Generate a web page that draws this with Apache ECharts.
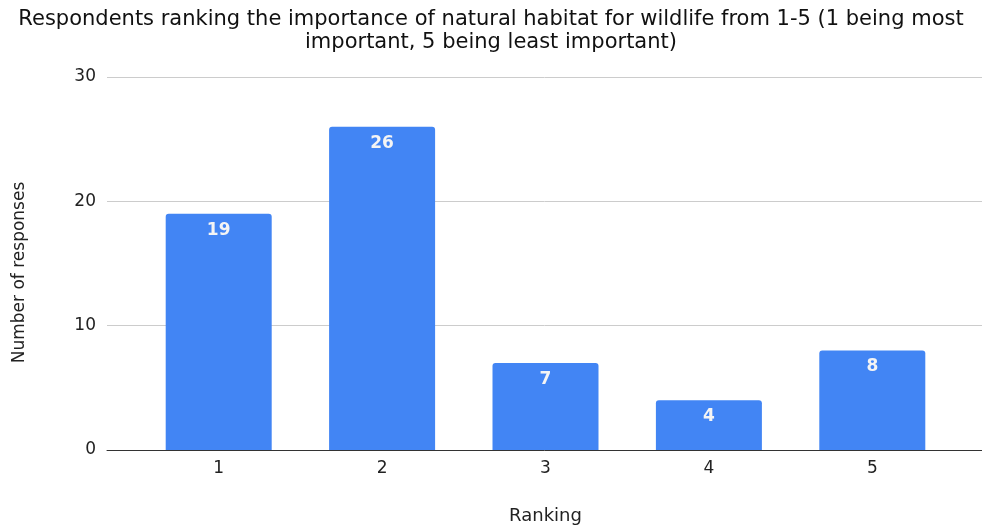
<!DOCTYPE html>
<html>
<head>
<meta charset="utf-8">
<script src="https://cdn.jsdelivr.net/npm/echarts@6/dist/echarts.min.js"></script>
<style>
  html, body { margin: 0; padding: 0; background: #fff; }
  #chart { width: 982px; height: 529px; }
</style>
</head>
<body>
<div id="chart"></div>
<script>
// Survey results: ranking of natural habitat importance
const titleText = 'Respondents ranking the importance of natural habitat for wildlife from 1-5 (1 being most\nimportant, 5 being least important)';
const categories = ['1', '2', '3', '4', '5'];
const responses = [19, 26, 7, 4, 8];
const yMin = 0, yMax = 30, yStep = 10;

const FONT = 'DejaVu Sans, sans-serif';
const chart = echarts.init(document.getElementById('chart'), null, { renderer: 'canvas' });

chart.setOption({
  animation: false,
  title: {
    text: titleText,
    left: 'center',
    top: 3,
    textStyle: { fontFamily: FONT, fontSize: 21, fontWeight: 'normal', color: '#111', lineHeight: 23 }
  },
  grid: [
    // bars
    { left: 137, right: 28, top: 77, bottom: 79, containLabel: false, outerBoundsMode: 'none' },
    // background gridlines spanning full width
    { left: 107, right: 0, top: 77, bottom: 79, containLabel: false, outerBoundsMode: 'none' }
  ],
  xAxis: [
    {
      type: 'category', gridIndex: 0, data: categories,
      axisLine: { show: false }, axisTick: { show: false },
      axisLabel: { fontFamily: FONT, fontSize: 17, color: '#222', margin: 10 },
      name: 'Ranking', nameLocation: 'middle', nameGap: 57,
      nameTextStyle: { fontFamily: FONT, fontSize: 18, color: '#222' }
    },
    {
      type: 'value', gridIndex: 1, min: 0, max: 1,
      axisLine: { show: true, lineStyle: { color: '#333', width: 1 } },
      axisTick: { show: false }, axisLabel: { show: false }, splitLine: { show: false }
    }
  ],
  yAxis: [
    {
      type: 'value', gridIndex: 0, min: yMin, max: yMax, interval: yStep,
      axisLine: { show: false }, axisTick: { show: false },
      axisLabel: { show: false }, splitLine: { show: false }
    },
    {
      type: 'value', gridIndex: 1, min: yMin, max: yMax, interval: yStep,
      axisLine: { show: false }, axisTick: { show: false },
      axisLabel: { fontFamily: FONT, fontSize: 17, color: '#222', margin: 11 },
      splitLine: { lineStyle: { color: '#ccc', width: 1 } },
      name: 'Number of responses', nameLocation: 'middle', nameGap: 79, nameRotate: 90,
      nameTextStyle: { fontFamily: FONT, fontSize: 17, color: '#222', padding: [0, 18, 0, 0] }
    }
  ],
  series: [
    {
      type: 'bar', xAxisIndex: 0, yAxisIndex: 0,
      data: responses,
      barWidth: 106,
      itemStyle: { color: '#4285F4', borderRadius: [3, 3, 0, 0] },
      label: {
        show: true, position: 'insideTop', distance: 8,
        fontFamily: FONT, fontSize: 17, fontWeight: 'bold', color: '#f4f4f4'
      },
      z: 3
    }
  ]
});
</script>
</body>
</html>
